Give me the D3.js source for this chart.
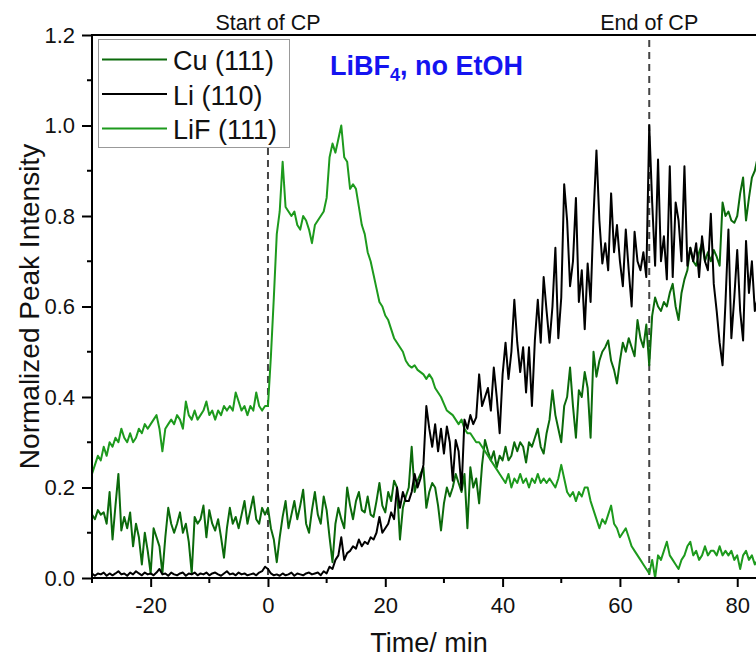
<!DOCTYPE html>
<html>
<head>
<meta charset="utf-8">
<script src="https://cdn.jsdelivr.net/npm/d3@7"></script>
<style>
  html, body { margin: 0; padding: 0; background: #fff; }
  svg { display: block; font-family: "Liberation Sans", Arial, sans-serif; }
</style>
</head>
<body>
<svg id="chart" width="756" height="661"></svg>
<script>
// Time grid of the in-situ XRD scans: one pattern every 0.5 min, from -30 min
const timeStart = -30;
const timeStep = 0.5;

// Normalized peak intensities, one value per scan
const cu111 = [
  0.14,0.13,0.15,0.14,0.145,0.12,0.19,0.085,0.16,0.23,0.105,0.135,0.11,0.145,0.07,0.12,0.09,0.03,0.10,0.06,
  0.01,0.11,0.09,0.07,0.01,0.09,0.155,0.12,0.10,0.12,0.145,0.10,0.12,0.08,0.01,0.135,0.12,0.13,0.16,0.09,
  0.15,0.12,0.105,0.13,0.09,0.045,0.11,0.155,0.12,0.135,0.11,0.14,0.17,0.12,0.15,0.18,0.13,0.12,0.155,0.14,
  0.155,0.11,0.085,0.035,0.09,0.135,0.17,0.11,0.14,0.17,0.13,0.16,0.195,0.12,0.10,0.15,0.19,0.14,0.12,0.18,
  0.15,0.09,0.035,0.12,0.155,0.13,0.11,0.20,0.16,0.13,0.17,0.19,0.15,0.145,0.18,0.14,0.135,0.17,0.21,0.16,
  0.145,0.19,0.17,0.215,0.20,0.085,0.155,0.18,0.20,0.29,0.19,0.215,0.23,0.245,0.155,0.19,0.21,0.20,0.16,0.105,
  0.165,0.20,0.18,0.20,0.23,0.21,0.19,0.23,0.11,0.245,0.20,0.22,0.165,0.25,0.305,0.28,0.26,0.28,0.245,0.27,
  0.26,0.29,0.26,0.27,0.30,0.28,0.30,0.29,0.255,0.30,0.29,0.31,0.33,0.29,0.275,0.32,0.35,0.415,0.36,0.33,
  0.30,0.38,0.40,0.465,0.38,0.31,0.415,0.40,0.455,0.42,0.31,0.50,0.445,0.48,0.50,0.51,0.525,0.48,0.46,0.43,
  0.48,0.52,0.50,0.53,0.51,0.49,0.57,0.53,0.51,0.56,0.47,0.58,0.62,0.60,0.59,0.61,0.60,0.63,0.65,0.60,
  0.57,0.63,0.66,0.68,0.73,0.70,0.69,0.72,0.74,0.70,0.72,0.70,0.725,0.71,0.69,0.83,0.80,0.81,0.79,0.785,
  0.80,0.85,0.885,0.79,0.84,0.885,0.90,0.93,0.94
];

const li110 = [
  0.01,0.005,0.01,0.008,0.012,0.005,0.01,0.006,0.01,0.015,0.008,0.01,0.005,0.012,0.008,0.015,0.01,0.006,0.012,0.008,
  0.01,0.006,0.012,0.02,0.008,0.01,0.005,0.012,0.008,0.006,0.01,0.012,0.005,0.01,0.008,0.012,0.006,0.01,0.008,0.012,
  0.006,0.01,0.012,0.008,0.005,0.01,0.015,0.008,0.01,0.006,0.012,0.008,0.01,0.006,0.008,0.01,0.006,0.012,0.015,0.025,
  0.02,0.01,0.006,0.008,0.005,0.01,0.006,0.008,0.012,0.005,0.01,0.008,0.006,0.01,0.012,0.008,0.01,0.012,0.006,0.015,
  0.01,0.025,0.02,0.04,0.05,0.09,0.04,0.055,0.06,0.07,0.065,0.085,0.07,0.08,0.075,0.09,0.085,0.10,0.135,0.10,
  0.11,0.12,0.145,0.13,0.20,0.155,0.19,0.17,0.17,0.19,0.23,0.20,0.22,0.25,0.38,0.33,0.29,0.34,0.28,0.33,
  0.275,0.335,0.30,0.215,0.305,0.28,0.195,0.35,0.33,0.36,0.34,0.355,0.45,0.38,0.40,0.42,0.37,0.465,0.40,0.32,
  0.45,0.52,0.44,0.50,0.615,0.52,0.455,0.51,0.41,0.51,0.38,0.525,0.615,0.52,0.665,0.59,0.52,0.60,0.73,0.53,
  0.62,0.87,0.79,0.645,0.70,0.84,0.61,0.68,0.55,0.695,0.61,0.80,0.945,0.79,0.695,0.74,0.68,0.85,0.72,0.78,
  0.70,0.645,0.77,0.68,0.60,0.765,0.70,0.68,0.72,0.665,1.00,0.83,0.69,0.925,0.70,0.755,0.66,0.91,0.665,0.83,
  0.79,0.70,0.91,0.69,0.73,0.70,0.74,0.665,0.755,0.70,0.68,0.805,0.65,0.59,0.52,0.47,0.61,0.77,0.53,0.62,
  0.725,0.59,0.525,0.745,0.63,0.70,0.59,0.62,0.60
];

const lif111 = [
  0.23,0.25,0.27,0.26,0.29,0.27,0.30,0.29,0.31,0.30,0.33,0.31,0.30,0.32,0.30,0.31,0.33,0.32,0.34,0.33,
  0.34,0.35,0.36,0.33,0.28,0.33,0.34,0.35,0.34,0.36,0.35,0.33,0.39,0.36,0.35,0.37,0.35,0.36,0.37,0.39,
  0.36,0.37,0.35,0.37,0.36,0.38,0.37,0.38,0.37,0.41,0.39,0.37,0.38,0.36,0.38,0.37,0.41,0.38,0.37,0.38,
  0.38,0.49,0.62,0.76,0.81,0.92,0.82,0.81,0.80,0.81,0.78,0.77,0.80,0.79,0.77,0.74,0.78,0.79,0.80,0.81,
  0.84,0.93,0.96,0.94,0.97,1.00,0.93,0.92,0.86,0.87,0.86,0.82,0.78,0.76,0.72,0.70,0.67,0.64,0.61,0.60,
  0.58,0.57,0.55,0.53,0.52,0.51,0.50,0.48,0.47,0.465,0.47,0.46,0.455,0.45,0.44,0.45,0.44,0.42,0.41,0.40,
  0.385,0.37,0.365,0.36,0.35,0.34,0.35,0.33,0.32,0.32,0.31,0.30,0.30,0.29,0.28,0.27,0.26,0.25,0.24,0.23,
  0.22,0.21,0.23,0.20,0.22,0.21,0.23,0.21,0.22,0.20,0.22,0.21,0.23,0.21,0.22,0.21,0.22,0.21,0.20,0.22,
  0.25,0.22,0.19,0.18,0.19,0.17,0.19,0.18,0.20,0.20,0.17,0.15,0.13,0.11,0.13,0.12,0.14,0.16,0.12,0.11,
  0.09,0.10,0.11,0.09,0.07,0.06,0.05,0.04,0.03,0.02,0.01,0.04,0.00,0.05,0.04,0.06,0.08,0.05,0.04,0.03,
  0.02,0.04,0.05,0.07,0.08,0.05,0.06,0.04,0.05,0.07,0.05,0.06,0.06,0.05,0.07,0.05,0.06,0.05,0.06,0.04,
  0.05,0.02,0.05,0.06,0.04,0.05,0.03,0.04,0.04
];

// Current-pulse window and annotations
const cpMarkers = [
  { time: 0, label: "Start of CP" },
  { time: 65, label: "End of CP" }
];

const xMajorTicks = [-20, 0, 20, 40, 60, 80];
const xMinorTicks = [-30, -10, 10, 30, 50, 70];
const yMajorTicks = [0, 0.2, 0.4, 0.6, 0.8, 1.0, 1.2];
const yMinorTicks = [0.1, 0.3, 0.5, 0.7, 0.9, 1.1];

const seriesList = [
  { name: "Cu (111)", values: cu111, color: "#0b6a0b" },
  { name: "Li (110)", values: li110, color: "#000000" },
  { name: "LiF (111)", values: lif111, color: "#1d9a1d" }
];

const FONT = "'Liberation Sans', Arial, sans-serif";
const svg = d3.select("#chart");
const W = 756;

const x = d3.scaleLinear().domain([-30, 83.2]).range([92, 756]);
const y = d3.scaleLinear().domain([0, 1.2]).range([578, 35]);

// Clip the traces to the plotting frame
svg.append("defs").append("clipPath").attr("id", "plotClip")
  .append("rect").attr("x", 92).attr("y", 35).attr("width", W - 92).attr("height", 578 - 35);

// CP markers (dashed verticals + captions above the frame)
cpMarkers.forEach(m => {
  svg.append("line")
    .attr("x1", x(m.time)).attr("x2", x(m.time))
    .attr("y1", 40).attr("y2", y(0))
    .attr("stroke", "#444").attr("stroke-width", 2)
    .attr("stroke-dasharray", "7,5");
  svg.append("text")
    .attr("x", x(m.time)).attr("y", 30)
    .attr("text-anchor", "middle")
    .attr("font-size", 21.5).attr("fill", "#111")
    .text(m.label);
});

// Data traces
const line = d3.line()
  .x((d, i) => x(timeStart + i * timeStep))
  .y(d => y(d));

const traces = svg.append("g").attr("clip-path", "url(#plotClip)");
// draw order: Cu underneath, LiF, Li on top
[seriesList[0], seriesList[2], seriesList[1]].forEach(s => {
  traces.append("path")
    .datum(s.values)
    .attr("d", line)
    .attr("fill", "none")
    .attr("stroke", s.color)
    .attr("stroke-width", 2)
    .attr("stroke-linejoin", "round");
});

// Bottom axis with major labelled ticks and minor ticks
const xAxisG = svg.append("g").attr("transform", `translate(0,${y(0)})`);
xAxisG.call(d3.axisBottom(x).tickValues(xMajorTicks).tickSize(9).tickPadding(10)
  .tickFormat(d => String(d)));
xAxisG.selectAll(".tick text").attr("font-size", 22).attr("fill", "#111")
  .attr("font-family", FONT);
xAxisG.selectAll(".tick line").attr("stroke-width", 2);
xAxisG.select(".domain").remove();
xAxisG.selectAll(".minor").data(xMinorTicks).enter().append("line")
  .attr("x1", d => x(d)).attr("x2", d => x(d))
  .attr("y1", 0).attr("y2", 5)
  .attr("stroke", "#000").attr("stroke-width", 2);
svg.append("line").attr("x1", 91).attr("x2", W).attr("y1", y(0)).attr("y2", y(0))
  .attr("stroke", "#000").attr("stroke-width", 2);

// Left axis
const yAxisG = svg.append("g").attr("transform", `translate(92,0)`);
yAxisG.call(d3.axisLeft(y).tickValues(yMajorTicks).tickSize(10).tickPadding(7)
  .tickFormat(d3.format(".1f")));
yAxisG.selectAll(".tick text").attr("font-size", 22).attr("fill", "#111")
  .attr("font-family", FONT);
yAxisG.selectAll(".tick line").attr("stroke-width", 2);
yAxisG.select(".domain").remove();
yAxisG.selectAll(".minor").data(yMinorTicks).enter().append("line")
  .attr("x1", -5).attr("x2", 0)
  .attr("y1", d => y(d)).attr("y2", d => y(d))
  .attr("stroke", "#000").attr("stroke-width", 2);
svg.append("line").attr("x1", 92).attr("x2", 92).attr("y1", y(1.2) - 1).attr("y2", y(0) + 1)
  .attr("stroke", "#000").attr("stroke-width", 2);

// Top frame line
svg.append("line").attr("x1", 91).attr("x2", W).attr("y1", y(1.2)).attr("y2", y(1.2))
  .attr("stroke", "#000").attr("stroke-width", 2);

// Axis titles
svg.append("text")
  .attr("transform", `translate(39,${(y(0) + y(1.2)) / 2}) rotate(-90)`)
  .attr("text-anchor", "middle")
  .attr("font-size", 28).attr("fill", "#111")
  .text("Normalized Peak Intensity");
svg.append("text")
  .attr("x", 429).attr("y", 652)
  .attr("text-anchor", "middle")
  .attr("font-size", 27).attr("fill", "#111")
  .text("Time/ min");

// Legend
const legend = svg.append("g");
legend.append("rect")
  .attr("x", 98.5).attr("y", 39.5).attr("width", 191).attr("height", 108)
  .attr("fill", "#fff").attr("stroke", "#999").attr("stroke-width", 1);
seriesList.forEach((s, i) => {
  const cy = 59.5 + i * 34.5;
  legend.append("line")
    .attr("x1", 102).attr("x2", 167).attr("y1", cy).attr("y2", cy)
    .attr("stroke", s.color).attr("stroke-width", 2);
  legend.append("text")
    .attr("x", 173).attr("y", cy + 10.5)
    .attr("font-size", 27).attr("fill", "#111")
    .text(s.name);
});

// Electrolyte caption
const cap = svg.append("text")
  .attr("x", 330).attr("y", 75)
  .attr("font-size", 27).attr("font-weight", "bold").attr("fill", "#1414f0");
cap.append("tspan").text("LiBF");
cap.append("tspan").attr("font-size", 18).attr("dy", 6).text("4");
cap.append("tspan").attr("dy", -6).text(", no EtOH");
</script>
</body>
</html>
